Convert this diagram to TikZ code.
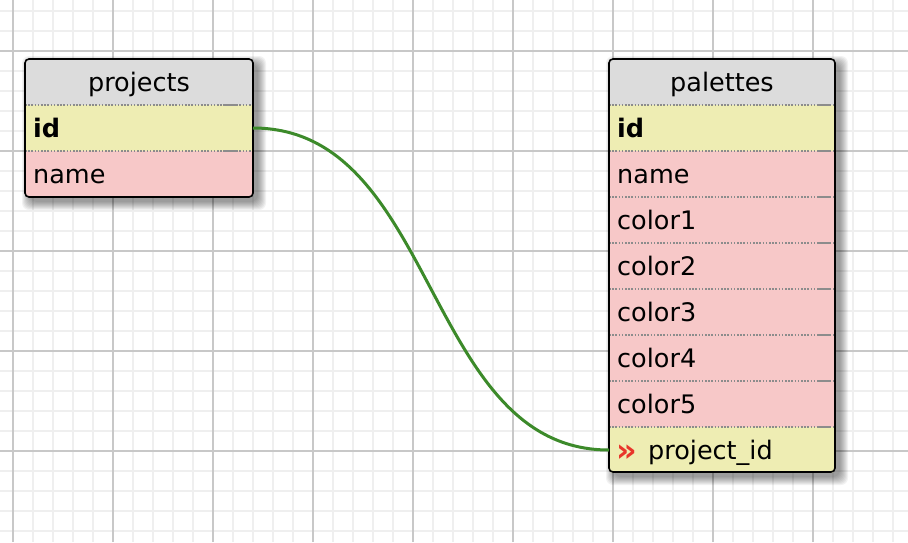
\documentclass[tikz,border=0pt]{standalone}
\usepackage{fontspec}
\setmainfont{DejaVu Sans}
\definecolor{hdrgray}{HTML}{DCDCDC}
\definecolor{pkyellow}{HTML}{EEEDB3}
\definecolor{rowpink}{HTML}{F7C8C8}
\definecolor{fkgreen}{HTML}{3C8A2A}
\definecolor{chevred}{HTML}{E8352A}
\definecolor{minorgrid}{HTML}{EFEFEF}
\definecolor{majorgrid}{HTML}{C8C8C8}
\definecolor{sepgray}{HTML}{8C8C8C}
\begin{document}
\begin{tikzpicture}[x=1pt,y=-1pt,
  minorline/.style={draw=minorgrid, line width=1.5pt},
  majorline/.style={draw=majorgrid, line width=1.8pt},
  rowbox/.style={rectangle, anchor=north west, inner sep=0pt, outer sep=0pt, minimum height=46pt},
  fieldtxt/.style={anchor=base west, inner sep=0pt, font=\fontsize{25.5}{30}\selectfont, text=black},
  hdrtxt/.style={anchor=base, inner sep=0pt, font=\fontsize{25.5}{30}\selectfont, text=black},
  sepline/.style={draw=sepgray, line width=1.2pt, dash pattern=on 1.6pt off 1.6pt},
  sepmark/.style={draw=sepgray, line width=1.2pt},
  tableborder/.style={draw=black, line width=1.6pt, rounded corners=4pt},
  shadowlayer/.style={fill=black, opacity=0.05, rounded corners=7pt},
  fkline/.style={draw=fkgreen, line width=3pt},
  chev/.style={anchor=base west, inner sep=0pt, text=chevred, font=\bfseries\fontsize{32}{34}\selectfont}
]
\useasboundingbox (0,0) rectangle (908,542);
\fill[white] (0,0) rectangle (908,542);
% grid
\foreach \x in {13,33,...,893} \draw[minorline] (\x,0) -- (\x,542);
\foreach \y in {11,31,...,531} \draw[minorline] (0,\y) -- (908,\y);
\foreach \x in {13,113,...,813} \draw[majorline] (\x,0) -- (\x,542);
\foreach \y in {51,151,...,451} \draw[majorline] (0,\y) -- (908,\y);

% shadows
\foreach \e in {0,1,...,8} {
  \fill[shadowlayer] (25+5-\e,59+5-\e) rectangle (253+5+\e,197+5+\e);
  \fill[shadowlayer] (609+5-\e,59+5-\e) rectangle (835+5+\e,472+5+\e);
}

% ---------- projects table ----------
\begin{scope}
  \clip[rounded corners=4pt] (25,59) rectangle (253,197);
  \node[rowbox, minimum width=228pt, fill=hdrgray] (p-h) at (25,59) {};
  \node[rowbox, minimum width=228pt, fill=pkyellow] (p-id) at (25,105) {};
  \node[rowbox, minimum width=228pt, fill=rowpink] (p-name) at (25,151) {};
\end{scope}
\foreach \r in {p-h,p-id} {
  \draw[sepline] (\r.south west) -- (\r.south east);
  \draw[sepmark] ([xshift=-30pt]\r.south east) -- ([xshift=-16pt]\r.south east);
}
\node[hdrtxt] (p-h-t) at (139,91.5) {projects};
\node[fieldtxt] (p-id-t) at (33,137) {\bfseries id};
\node[fieldtxt] (p-name-t) at (33,183) {name};
\draw[tableborder] (25,59) rectangle (253,197);

% ---------- palettes table ----------
\begin{scope}
  \clip[rounded corners=4pt] (609,59) rectangle (835,473);
  \node[rowbox, minimum width=226pt, fill=hdrgray] (q-h) at (609,59) {};
  \node[rowbox, minimum width=226pt, fill=pkyellow] (q-id) at (609,105) {};
  \node[rowbox, minimum width=226pt, fill=rowpink] (q-name) at (609,151) {};
  \node[rowbox, minimum width=226pt, fill=rowpink] (q-c1) at (609,197) {};
  \node[rowbox, minimum width=226pt, fill=rowpink] (q-c2) at (609,243) {};
  \node[rowbox, minimum width=226pt, fill=rowpink] (q-c3) at (609,289) {};
  \node[rowbox, minimum width=226pt, fill=rowpink] (q-c4) at (609,335) {};
  \node[rowbox, minimum width=226pt, fill=rowpink] (q-c5) at (609,381) {};
  \node[rowbox, minimum width=226pt, fill=pkyellow] (q-pid) at (609,427) {};
\end{scope}
\foreach \r in {q-h,q-id,q-name,q-c1,q-c2,q-c3,q-c4,q-c5} {
  \draw[sepline] (\r.south west) -- (\r.south east);
  \draw[sepmark] ([xshift=-18pt]\r.south east) -- ([xshift=-4pt]\r.south east);
}
\node[hdrtxt] (q-h-t) at (722,91.5) {palettes};
\node[fieldtxt] (q-id-t) at (617,137) {\bfseries id};
\node[fieldtxt] (q-name-t) at (617,183) {name};
\node[fieldtxt] (q-c1-t) at (617,229) {color1};
\node[fieldtxt] (q-c2-t) at (617,275) {color2};
\node[fieldtxt] (q-c3-t) at (617,321) {color3};
\node[fieldtxt] (q-c4-t) at (617,367) {color4};
\node[fieldtxt] (q-c5-t) at (617,413) {color5};
\node[chev] (q-pid-m) at (616,461) {»};
\node[fieldtxt] (q-pid-t) at (648,459) {project\_id};
\draw[tableborder] (609,59) rectangle (835,472);

% ---------- relation ----------
\draw[fkline] (p-id.east) .. controls +(185,0) and +(-185,0) .. (q-pid.west);
\end{tikzpicture}
\end{document}
